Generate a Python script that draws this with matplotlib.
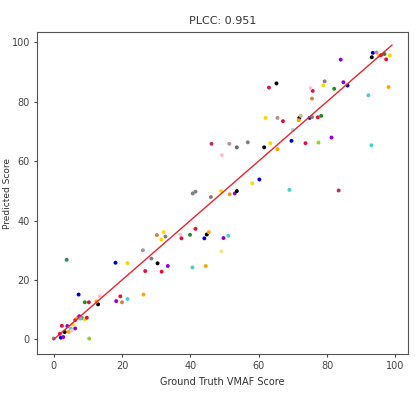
import numpy as np
import matplotlib
matplotlib.use("Agg")
import matplotlib.pyplot as plt

# ground truth vs predicted scores, colour per point
gt = [84.0, 93.4, 94.5, 95.3, 96.8, 98.4, 93.1, 97.3, 95.8, 98.0, 92.1,
      65.2, 63.0, 79.3, 78.9, 84.8, 82.1, 86.0, 75.8, 75.2, 75.6,
      62.0, 65.5, 67.1, 71.9, 72.3, 71.7, 74.9, 75.6, 77.3, 78.3, 70.0,
      63.4, 65.5, 69.6, 73.7, 77.5, 81.3, 93.0, 69.0, 83.4,
      46.2, 51.4, 53.6, 56.8, 61.6, 49.2, 60.2, 58.1,
      40.7, 41.5, 46.0, 49.0, 51.5, 53.0, 53.6,
      30.2, 32.2, 31.5, 32.7, 37.1, 37.4, 39.9, 41.5, 44.1, 44.8, 45.4, 49.7, 51.1, 49.1,
      28.6, 30.4, 33.4, 31.6, 40.6, 44.5,
      3.8, 18.1, 21.6, 26.1, 26.8,
      7.3, 9.1, 10.3, 13.0, 13.5, 12.5, 19.5, 18.3, 20.0, 21.6, 26.3, 10.4,
      0.0, 2.1, 1.8, 2.4, 3.2, 4.4, 5.0, 4.0, 5.6, 6.3, 6.9, 7.5, 8.3, 9.1,
      6.3, 5.3, 2.8, 9.7, 7.8]
pred = [94.1, 96.4, 96.5, 95.4, 96.0, 95.5, 94.9, 94.2, 95.6, 84.9, 82.1,
        86.1, 84.7, 86.8, 85.5, 86.5, 84.3, 85.4, 83.6, 84.5, 81.0,
        74.5, 74.5, 73.4, 74.5, 75.2, 73.7, 74.5, 74.8, 74.7, 75.2, 70.5,
        66.0, 64.0, 66.8, 66.0, 66.2, 67.9, 65.3, 50.3, 50.1,
        65.8, 65.8, 64.6, 66.3, 64.6, 62.0, 53.8, 52.5,
        49.1, 49.7, 47.9, 49.9, 48.8, 49.1, 49.9,
        35.1, 36.1, 33.6, 34.6, 35.2, 34.0, 35.2, 37.2, 34.0, 35.3, 36.1, 34.1, 34.9, 29.6,
        27.2, 25.6, 24.7, 22.8, 24.2, 24.7,
        26.8, 25.8, 25.7, 30.0, 23.0,
        15.1, 12.5, 12.5, 11.8, 14.5, 12.8, 14.5, 12.9, 12.5, 13.6, 15.1, 0.3,
        0.3, 0.6, 1.9, 4.6, 2.5, 2.5, 3.6, 4.5, 5.0, 6.5, 7.2, 7.8, 7.2, 6.7,
        3.7, 3.0, 0.8, 7.3, 7.0]
colors = ['darkviolet', 'mediumblue', 'rosybrown', 'orange', 'forestgreen', 'gold', 'black', 'crimson', 'crimson', 'orange', 'mediumturquoise',
          'black', 'crimson', 'gray', 'gold', 'darkviolet', 'forestgreen', 'mediumblue', 'crimson', 'pink', 'peru',
          'gold', 'rosybrown', 'crimson', 'black', 'tan', 'orange', 'mediumblue', 'gray', 'crimson', 'forestgreen', 'lightblue',
          'gold', 'orange', 'mediumblue', 'crimson', 'yellowgreen', 'darkviolet', 'mediumturquoise', 'mediumturquoise', '#b03060',
          '#b03060', 'rosybrown', 'dimgray', 'gray', 'black', 'pink', 'mediumblue', 'gold',
          'gray', 'gray', 'gray', 'gold', 'goldenrod', 'darkviolet', 'black',
          'peru', 'gold', 'gold', 'gray', 'pink', 'crimson', 'forestgreen', 'crimson', 'mediumblue', 'black', 'orange', 'darkviolet', 'mediumturquoise', 'khaki',
          'gray', 'black', 'darkviolet', 'crimson', 'mediumturquoise', 'orange',
          'seagreen', 'mediumblue', 'gold', 'rosybrown', 'crimson',
          'mediumblue', 'forestgreen', 'crimson', 'black', 'pink', 'orange', 'crimson', 'darkviolet', 'peru', 'mediumturquoise', 'orange', 'yellowgreen',
          'gray', 'mediumblue', 'crimson', 'crimson', 'black', 'orange', 'mediumturquoise', 'darkviolet', 'gold', 'crimson', 'orange', 'darkviolet', 'gray', 'gold',
          'darkviolet', 'pink', 'darkviolet', 'crimson', 'mediumturquoise']
line_ends = [0, 99]
plcc = 0.951

fig = plt.figure(figsize=(4.15, 3.95), dpi=100)
ax = fig.add_axes([0.089, 0.103, 0.895, 0.816])

ax.scatter(gt, pred, c=colors, s=8, linewidths=0)
ax.plot(line_ends, line_ends, color='#e8252e', lw=1)

ax.set_title(f"PLCC: {plcc}", fontsize=8, color='#333333')
ax.set_xlabel("Ground Truth VMAF Score", fontsize=7, color='#333333')
ax.set_ylabel("Predicted Score", fontsize=6.5, color='#333333')
ax.yaxis.set_label_coords(-0.068, 0.5)
ax.tick_params(labelsize=7, colors='#444444', length=2.5, pad=2.5)
ax.set_xticks([0, 20, 40, 60, 80, 100])
ax.set_yticks([0, 20, 40, 60, 80, 100])
ax.set_xlim(-4.9, 103.8)
ax.set_ylim(-5, 103.4)
for s in ax.spines.values():
    s.set_color('#555555')

plt.savefig('out.png')
